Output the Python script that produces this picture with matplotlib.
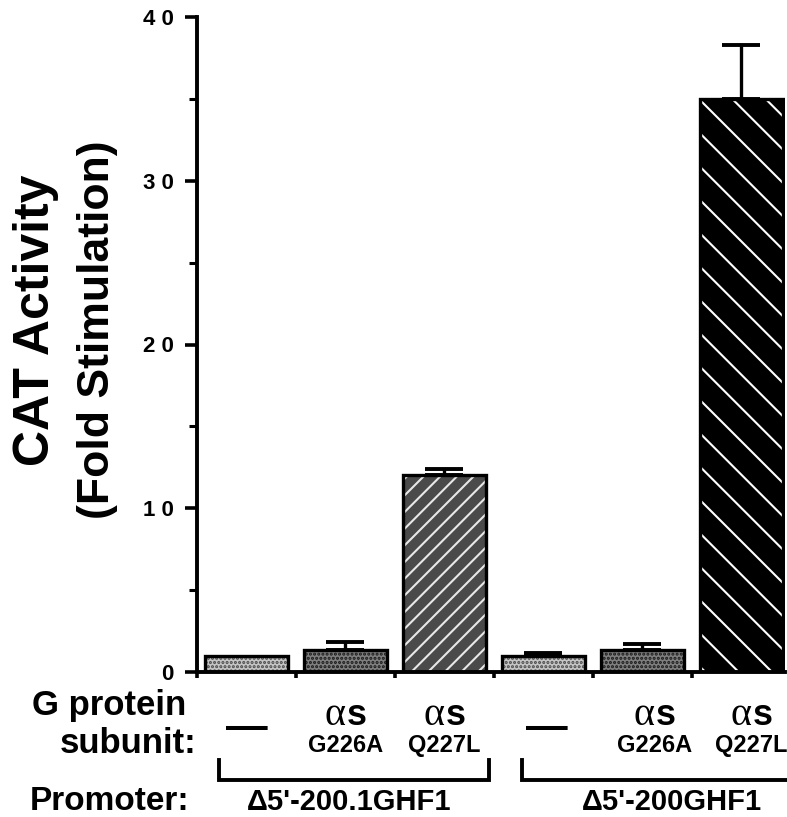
import matplotlib

matplotlib.use("Agg")
import matplotlib.pyplot as plt  # noqa: E402
import numpy as np  # noqa: E402
from matplotlib.lines import Line2D  # noqa: E402
from matplotlib.transforms import blended_transform_factory  # noqa: E402

# data
values = [1.0, 1.35, 12.05, 1.0, 1.35, 35.0]
err_up = [0.0, 0.5, 0.35, 0.15, 0.35, 3.3]
subunits = ["—", "αs", "αs", "—", "αs", "αs"]
mutants = ["", "G226A", "Q227L", "", "G226A", "Q227L"]
promoters = ["Δ5'-200.1GHF1", "Δ5'-200GHF1"]
y_ticks = [0, 10, 20, 30, 40]
y_ticklabels = ["0", "1 0", "2 0", "3 0", "4 0"]

faces = ["#c4c4c4", "#7e7e7e", "#4a4a4a", "#c4c4c4", "#7e7e7e", "#000000"]
hatches = ["....", "....", "//", "....", "....", "\\"]
hatch_cols = ["#4a4a4a", "#1a1a1a", "#e8e8e8", "#4a4a4a", "#1a1a1a", "white"]
label_shift = [0.0, 0.0, 0.0, 0.03, 0.12, 0.1]

W, H = 787, 817
SANS = "Liberation Sans"
plt.rcParams["font.family"] = [SANS, "DejaVu Sans"]
plt.rcParams["hatch.linewidth"] = 1.5


def fy(px):
    return 1 - px / H


fig = plt.figure(figsize=(W / 100, H / 100), dpi=100)
ax = fig.add_axes([197 / W, fy(672), (785 - 197) / W, (672 - 17) / H])

x = np.arange(len(values))
bars = ax.bar(x, values, width=0.83, color=faces, edgecolor=hatch_cols, linewidth=0, zorder=2)
for b, h in zip(bars, hatches):
    b.set_hatch(h)
ax.bar(x, values, width=0.83, fill=False, edgecolor="black", linewidth=2.4, zorder=3)

err = np.array(err_up)
m = err > 0
ax.errorbar(x[m], np.array(values)[m], yerr=[np.zeros(m.sum()), err[m]], fmt="none",
            ecolor="black", elinewidth=2.4, capsize=14, capthick=2.8, zorder=1)

ax.set_xlim(-0.5, 5.44)
ax.set_ylim(0, 40)
for s in ["top", "right"]:
    ax.spines[s].set_visible(False)
for s in ["left", "bottom"]:
    ax.spines[s].set_linewidth(2.8)
    ax.spines[s].set_zorder(4)

ax.set_yticks(y_ticks)
ax.set_yticklabels(y_ticklabels, fontsize=16, fontweight="bold")
ax.set_yticks([5, 15, 25, 35], minor=True)
ax.tick_params(axis="y", which="major", length=9, width=2.6, pad=8)
ax.tick_params(axis="y", which="minor", length=5.5, width=2.2)
ax.set_xticks(np.arange(-0.5, 5, 1.0))
ax.tick_params(axis="x", length=4.5, width=2.6, labelbottom=False)

# y label, two lines
fig.text(36 / W, fy(320), "CAT Activity", rotation=90, ha="center", va="center",
         fontsize=36, fontweight="bold")
fig.text(98 / W, fy(330), "(Fold Stimulation)", rotation=90, ha="center", va="center",
         fontsize=32, fontweight="bold")

# labels under the axis
tr = blended_transform_factory(ax.transData, fig.transFigure)
fig.text(32 / W, fy(715), "G protein", fontsize=25, fontweight="bold", va="baseline")
fig.text(60 / W, fy(753), "subunit:", fontsize=25, fontweight="bold", va="baseline")
fig.text(30 / W, fy(810), "Promoter:", fontsize=24, fontweight="bold", va="baseline")

for i, (sub, mut) in enumerate(zip(subunits, mutants)):
    cx = x[i] + label_shift[i]
    if sub == "—":
        ax.text(cx, fy(728), "—", transform=tr, ha="center", va="center",
                fontsize=30, fontweight="bold", clip_on=False)
        continue
    ax.text(cx, fy(725), "α", transform=tr, ha="right", va="baseline",
            fontsize=29, family=["Liberation Serif", "DejaVu Serif"], clip_on=False)
    ax.text(cx + 0.01, fy(725), "s", transform=tr, ha="left", va="baseline",
            fontsize=26, fontweight="bold", clip_on=False)
    ax.text(cx, fy(752), mut, transform=tr, ha="center", va="baseline",
            fontsize=17, fontweight="bold", clip_on=False)

# promoter brackets
for xs, ys in [([-0.28, -0.28, 2.45, 2.45], [760, 780, 780, 760]),
               ([5.5, 2.78, 2.78], [780, 780, 760])]:
    fig.add_artist(Line2D(xs, [fy(v) for v in ys], transform=tr, color="black",
                          linewidth=2.8, solid_joinstyle="miter", clip_on=False))
for cx, name in zip([1.04, 4.3], promoters):
    ax.text(cx, fy(810), name, transform=tr, ha="center", va="baseline",
            fontsize=21, fontweight="bold", clip_on=False)

fig.savefig("out.png", dpi=100)
